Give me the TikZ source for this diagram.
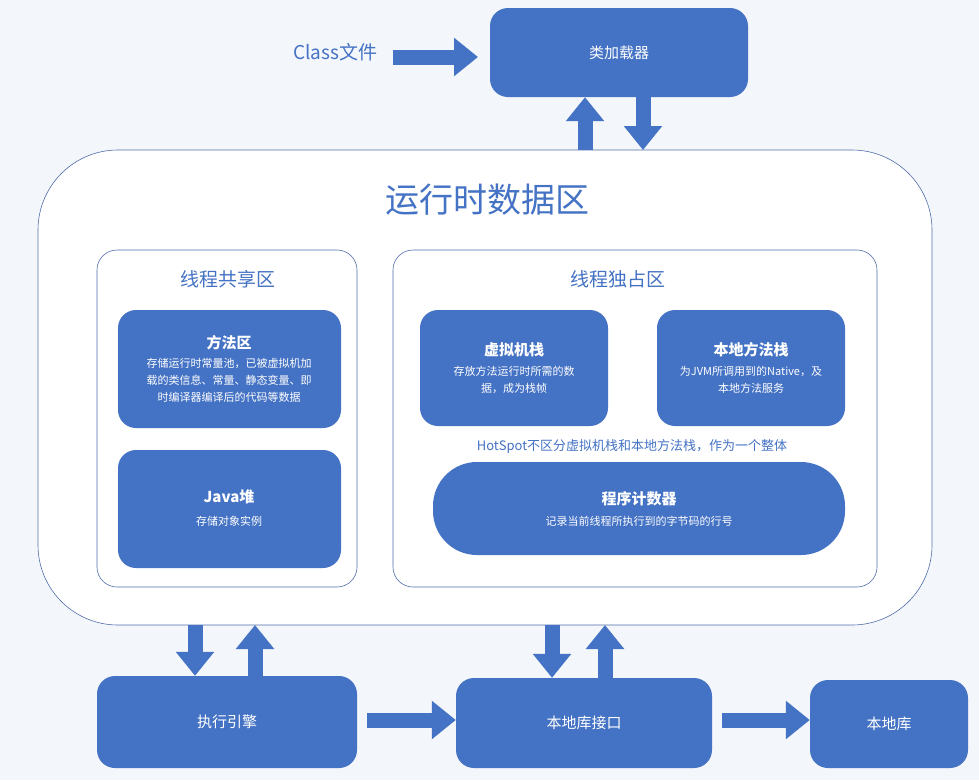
\documentclass[tikz,border=0pt]{standalone}
\usepackage{fontspec}
\setmainfont{Noto Sans CJK SC}
\usetikzlibrary{arrows.meta}
\definecolor{bl}{RGB}{68,114,196}
\definecolor{bd}{RGB}{80,110,170}
\definecolor{bg}{RGB}{243,246,250}
\begin{document}
\begin{tikzpicture}[x=1pt,y=-1pt,
  box/.style={draw=none,fill=bl,rounded corners=18pt,text=white,align=center,inner sep=0pt},
  area/.style={draw=bd,line width=0.6pt,fill=white,rounded corners=#1},
  barrow/.style={draw=bl,line width=15pt,-{Triangle[length=24pt,width=37pt]}},
  t/.style={font=\bfseries\fontsize{15}{18}\selectfont},
  s/.style={font=\fontsize{11}{17}\selectfont}]
\useasboundingbox[fill=bg] (0,0) rectangle (979,780);
% runtime area
\draw[area=80pt] (38,150) rectangle (932,625);
\node[text=bl,font=\fontsize{34}{40}\selectfont] (rtt) at (487,200) {运行时数据区};
\coordinate (rtn) at (485,150);
\coordinate (rts) at (485,625);
\draw[area=20pt] (97,250) rectangle (357,587);
\node[text=bl,font=\fontsize{19}{22}\selectfont] (sh) at (228,279) {线程共享区};
\draw[area=20pt] (393,250) rectangle (877,587);
\node[text=bl,font=\fontsize{19}{22}\selectfont] (ex) at (618,279) {线程独占区};
% boxes
\node[box,minimum width=223pt,minimum height=118pt] (ma) at (229.5,369) {};
\node[t,text=white] at (229,343) {方法区};
\node[s,text=white,align=center] at (229,380) {存储运行时常量池，已被虚拟机加\\载的类信息、常量、静态变量、即\\时编译器编译后的代码等数据};
\node[box,minimum width=223pt,minimum height=118pt] (heap) at (229.5,509) {};
\node[t,text=white] at (229,497) {Java堆};
\node[s,text=white] at (229,521) {存储对象实例};
\node[box,minimum width=188pt,minimum height=116pt] (vs) at (514,368) {};
\node[t,text=white] at (514,350) {虚拟机栈};
\node[s,text=white,align=center] at (514,380) {存放方法运行时所需的数\\据，成为栈帧};
\node[box,minimum width=188pt,minimum height=116pt] (ns) at (751,368) {};
\node[t,text=white] at (751,350) {本地方法栈};
\node[s,text=white,align=center] at (751,380) {为JVM所调用到的Native，及\\本地方法服务};
\node[text=bl,font=\fontsize{13}{16}\selectfont] (hs) at (632,446) {HotSpot不区分虚拟机栈和本地方法栈，作为一个整体};
\node[box,rounded corners=44pt,minimum width=412pt,minimum height=93pt] (pc) at (639,508.5) {};
\node[t,text=white] at (639,499) {程序计数器};
\node[s,text=white] at (639,521) {记录当前线程所执行到的字节码的行号};
% top
\node[text=bl,font=\fontsize{19}{22}\selectfont] (cls) at (335,52) {Class文件};
\node[box,minimum width=258pt,minimum height=89pt,font=\fontsize{15}{18}\selectfont] (cl) at (619,52.5) {类加载器};
% bottom
\node[box,minimum width=260pt,minimum height=92pt,font=\fontsize{15}{18}\selectfont] (ee) at (227,722) {执行引擎};
\node[box,minimum width=256pt,minimum height=90pt,font=\fontsize{15}{18}\selectfont] (nli) at (584,723) {本地库接口};
\node[box,minimum width=158pt,minimum height=88pt,font=\fontsize{15}{18}\selectfont] (nl) at (889,724) {本地库};
% arrows
\draw[barrow] (cls.east|-0,57) ++(12,0) -- (478,57);
\draw[barrow] (rtn -| 585,0) -- (cl.south -| 585,0);
\draw[barrow] (cl.south -| 643,0) -- (rtn -| 643,0);
\draw[barrow] (rts -| 195,0) -- (ee.north -| 195,0);
\draw[barrow] (ee.north -| 255,0) -- (rts -| 255,0);
\draw[barrow] (rts -| 552,0) -- (nli.north -| 552,0);
\draw[barrow] (nli.north -| 605,0) -- (rts -| 605,0);
\draw[barrow] (ee.east |- 0,720) ++(10,0) -- (nli.west |- 0,720);
\draw[barrow] (nli.east |- 0,720) ++(10,0) -- (nl.west |- 0,720);
\end{tikzpicture}
\end{document}
